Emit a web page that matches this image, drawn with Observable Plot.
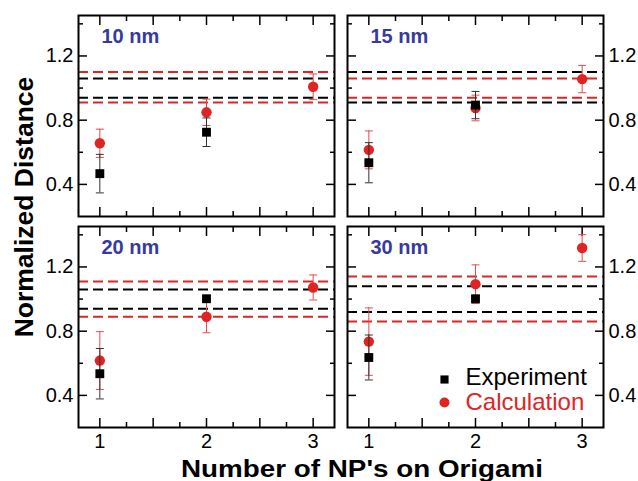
<!DOCTYPE html>
<html>
<head>
<meta charset="utf-8">
<script src="https://cdn.jsdelivr.net/npm/d3@7"></script>
<script src="https://cdn.jsdelivr.net/npm/@observablehq/plot@0.6"></script>
<style>
  html, body { margin: 0; padding: 0; background: #fff; }
  #chart { width: 638px; height: 481px; }
</style>
</head>
<body>
<div id="chart"></div>
<script>
// ---- data ----
const panels = ["10 nm", "15 nm", "20 nm", "30 nm"];
const nps = [1, 2, 3];
const expMean = [[0.467, 0.725, null], [0.535, 0.894, null], [0.535, 1.002, null], [0.636, 1.002, null]];
const expErr  = [[0.12, 0.089, null],  [0.125, 0.085, null], [0.157, null, null], [0.14, null, null]];
const calcMean = [[0.656, 0.849, 1.008], [0.615, 0.876, 1.056], [0.617, 0.890, 1.072], [0.735, 1.093, 1.318]];
const calcErr  = [[0.088, 0.082, 0.08],  [0.118, 0.08, 0.085],  [0.18, 0.10, 0.078],   [0.21, 0.12, 0.083]];
const expBand  = [[0.94, 1.06], [0.91, 1.10], [0.94, 1.06], [0.92, 1.08]];
const calcBand = [[0.91, 1.10], [0.94, 1.06], [0.89, 1.11], [0.86, 1.14]];
const yMajor = [0.4, 0.8, 1.2];
const yMinor = [0.6, 1.0, 1.4];
const xLabels = [1, 2, 3];
const xMajor = [1, 1.5, 2, 2.5, 3];
const xMinor = [1.25, 1.75, 2.25, 2.75];
const legendItems = ["Experiment", "Calculation"];
const xTitle = "Number of NP's on Origami";
const yTitle = "Normalized Distance";

// ---- tables ----
const RED = "#e02424", BLACK = "#000", BLUE = "#363a9e";
const panelRecs = panels.map((p, i) => ({panel: p, col: i % 2, row: Math.floor(i / 2)}));
const recs = panelRecs.flatMap((P, i) => nps.map((n, j) => ({
  ...P, n,
  exp: expMean[i][j], expErr: expErr[i][j],
  calc: calcMean[i][j], calcErr: calcErr[i][j]
})));
const bandRecs = panelRecs.flatMap((P, i) => [
  ...calcBand[i].map(y => ({...P, y, kind: "calc"})),
  ...expBand[i].map(y => ({...P, y, kind: "exp"}))
]);
const calcRecs = recs.filter(d => d.calc != null);
const calcErrRecs = calcRecs.filter(d => d.calcErr != null);
const expRecs = recs.filter(d => d.exp != null);
const expErrRecs = expRecs.filter(d => d.expErr != null);

const capSymbol = {draw(ctx) { ctx.moveTo(-4, 0); ctx.lineTo(4, 0); }};
const F = {fx: "col", fy: "row"};
const tickStyle = {label: null, tickFormat: () => "", facetAnchor: null, strokeWidth: 1.5};
const lastPanel = panelRecs.filter(d => d.col === 1 && d.row === 1);

const chart = Plot.plot({
  width: 638, height: 481,
  marginLeft: 77, marginRight: 34, marginTop: 14, marginBottom: 53,
  style: {fontFamily: "'Liberation Sans', Arial, sans-serif", background: "#fff", color: "#000", overflow: "visible"},
  x: {domain: [0.8, 3.2]},
  y: {domain: [0.2, 1.452]},
  fx: {domain: [0, 1], axis: null, padding: 0.048},
  fy: {domain: [0, 1], axis: null, padding: 0.047},
  marks: [
    // dashed reference lines
    Plot.ruleY(bandRecs, {...F, y: "y", stroke: d => d.kind === "calc" ? RED : BLACK, strokeWidth: 2, strokeDasharray: "10,5"}),
    // ticks (inward) on all sides
    Plot.axisY({...tickStyle, anchor: "left", ticks: yMajor, tickSize: -9}),
    Plot.axisY({...tickStyle, anchor: "left", ticks: yMinor, tickSize: -5}),
    Plot.axisY({...tickStyle, anchor: "right", ticks: yMajor, tickSize: -9}),
    Plot.axisY({...tickStyle, anchor: "right", ticks: yMinor, tickSize: -5}),
    Plot.axisX({...tickStyle, anchor: "bottom", ticks: xMajor, tickSize: -9}),
    Plot.axisX({...tickStyle, anchor: "bottom", ticks: xMinor, tickSize: -5}),
    Plot.axisX({...tickStyle, anchor: "top", ticks: xMajor, tickSize: -9}),
    Plot.axisX({...tickStyle, anchor: "top", ticks: xMinor, tickSize: -5}),
    // tick labels
    Plot.axisY({anchor: "left", ticks: yMajor, tickSize: 0, tickPadding: 5, facetAnchor: "left", label: null, fontSize: 20, tickFormat: d3.format(".1f")}),
    Plot.axisY({anchor: "right", ticks: yMajor, tickSize: 0, tickPadding: 5, facetAnchor: "right", label: null, fontSize: 20, tickFormat: d3.format(".1f")}),
    Plot.axisX({anchor: "bottom", ticks: xLabels, tickSize: 0, tickPadding: 6, facetAnchor: "bottom", label: null, fontSize: 20, tickFormat: d3.format("d")}),
    // calculation
    Plot.ruleX(calcErrRecs, {...F, x: "n", y1: d => d.calc - d.calcErr, y2: d => d.calc + d.calcErr, stroke: "#e84a4a", strokeWidth: 1}),
    Plot.dot(calcErrRecs, {...F, x: "n", y: d => d.calc - d.calcErr, symbol: capSymbol, fill: "none", stroke: "#e84a4a", strokeWidth: 1}),
    Plot.dot(calcErrRecs, {...F, x: "n", y: d => d.calc + d.calcErr, symbol: capSymbol, fill: "none", stroke: "#e84a4a", strokeWidth: 1}),
    Plot.dot(calcRecs, {...F, x: "n", y: "calc", r: 5.2, fill: RED, stroke: "none"}),
    // experiment
    Plot.ruleX(expErrRecs, {...F, x: "n", y1: d => d.exp - d.expErr, y2: d => d.exp + d.expErr, stroke: "#333", strokeWidth: 1}),
    Plot.dot(expErrRecs, {...F, x: "n", y: d => d.exp - d.expErr, symbol: capSymbol, fill: "none", stroke: "#333", strokeWidth: 1}),
    Plot.dot(expErrRecs, {...F, x: "n", y: d => d.exp + d.expErr, symbol: capSymbol, fill: "none", stroke: "#333", strokeWidth: 1}),
    Plot.dot(expRecs, {...F, x: "n", y: "exp", symbol: "square", r: 5, fill: BLACK, stroke: "none"}),
    // frames
    Plot.frame({stroke: "#000", strokeWidth: 2}),
    // panel labels
    Plot.text(panelRecs, {...F, text: "panel", frameAnchor: "top-left", dx: 23, dy: 13, lineAnchor: "top", textAnchor: "start", fontSize: 20, fontWeight: "bold", fill: BLUE}),
    // legend
    Plot.dot(lastPanel, {...F, frameAnchor: "bottom-left", dx: 97, dy: -48, symbol: "square", r: 4.6, fill: BLACK, stroke: "none"}),
    Plot.dot(lastPanel, {...F, frameAnchor: "bottom-left", dx: 97, dy: -25, r: 5, fill: RED, stroke: "none"}),
    Plot.text(lastPanel, {...F, text: () => legendItems[0], frameAnchor: "bottom-left", dx: 118, dy: -50, textAnchor: "start", lineAnchor: "middle", fontSize: 24, fill: BLACK}),
    Plot.text(lastPanel, {...F, text: () => legendItems[1], frameAnchor: "bottom-left", dx: 118, dy: -25, textAnchor: "start", lineAnchor: "middle", fontSize: 24, fill: RED})
  ]
});

// axis titles
const svg = d3.select(chart);
svg.append("text")
  .attr("x", 362).attr("y", 477)
  .attr("text-anchor", "middle")
  .attr("font-size", 24).attr("font-weight", "bold")
  .attr("textLength", 362).attr("lengthAdjust", "spacingAndGlyphs")
  .attr("fill", "#000")
  .text(xTitle);
svg.append("text")
  .attr("transform", "translate(33,207) rotate(-90)")
  .attr("text-anchor", "middle")
  .attr("font-size", 26.5).attr("font-weight", "bold")
  .attr("fill", "#000")
  .text(yTitle);

document.getElementById("chart").appendChild(chart);
</script>
</body>
</html>
